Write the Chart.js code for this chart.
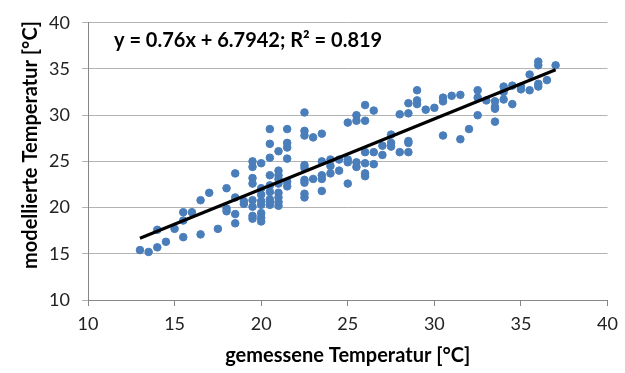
<!DOCTYPE html>
<html>
<head>
<meta charset="utf-8">
<script src="https://cdn.jsdelivr.net/npm/chart.js@4"></script>
<style>
  html, body { margin: 0; padding: 0; background: #fff; }
  #wrap { width: 625px; height: 373px; }
</style>
</head>
<body>
<div id="wrap"><canvas id="myChart" width="625" height="373"></canvas></div>
<script>
// gemessene (x) und modellierte (y) Temperaturen, paarweise
const measured = [
  13, 13.5, 14, 14, 14.5, 15, 15.5, 15.5, 15.5, 16, 16.5, 16.5, 17, 17.5,
  18, 18, 18, 18.5, 18.5, 18.5, 18.5, 19, 19,
  19.5, 19.5, 19.5, 19.5, 19.5, 19.5, 19.5, 19.5,
  20, 20, 20, 20, 20, 20, 20, 20,
  20.5, 20.5, 20.5, 20.5, 20.5, 20.5, 20.5, 20.5, 20.5,
  21, 21, 21, 21, 21, 21, 21, 21, 21,
  21.5, 21.5, 21.5, 21.5, 21.5, 21.5,
  22.5, 22.5, 22.5, 22.5, 22.5, 22.5, 22.5, 22.5, 22.5,
  23, 23, 23.5, 23.5, 23.5, 23.5, 23.5, 24, 24, 24, 24.5, 24.5,
  25, 25, 25, 25, 25.5, 25.5, 25.5, 25.5,
  26, 26, 26, 26, 26, 26, 26.5, 26.5, 26.5, 27, 27, 27.5, 27.5, 27.5,
  28, 28, 28.5, 28.5, 28.5, 28.5, 28.5, 29, 29, 29, 29.5, 30,
  30.5, 30.5, 30.5, 31, 31.5, 31.5, 32, 32.5, 32.5, 32.5, 33,
  33.5, 33.5, 33.5, 33.5, 34, 34, 34, 34.5, 34.5, 35, 35, 35.5, 35.5,
  36, 36, 36, 36, 36.5, 37
];
const modelled = [
  15.4, 15.2, 15.7, 17.6, 16.3, 17.7, 19.5, 18.6, 16.8, 19.5, 20.8, 17.1, 21.6, 17.7,
  22.1, 19.9, 19.6, 23.7, 21.1, 19.3, 18.3, 20.7, 20.4,
  25.0, 24.4, 23.2, 22.6, 20.8, 20.1, 19.1, 18.8,
  24.8, 22.1, 21.4, 20.7, 20.3, 19.4, 18.9, 18.5,
  28.5, 26.9, 25.4, 23.5, 22.4, 21.7, 20.9, 20.6, 20.3,
  26.1, 24.0, 23.5, 23.1, 22.6, 21.6, 21.1, 20.6, 20.2,
  28.5, 27.0, 26.5, 25.3, 22.8, 22.3,
  30.3, 28.3, 27.8, 24.6, 24.3, 23.0, 22.7, 21.5, 21.1,
  27.6, 23.1, 28.0, 25.0, 23.5, 23.1, 21.8, 25.2, 24.5, 23.7, 25.2, 24.0,
  29.2, 25.2, 24.9, 22.6, 30.0, 29.4, 24.9, 24.4,
  31.1, 29.4, 26.0, 24.8, 23.7, 23.4, 30.5, 26.0, 24.7, 26.7, 25.7, 27.9, 27.0, 26.6,
  30.1, 26.0, 31.3, 30.2, 27.2, 27.0, 26.0, 32.7, 31.6, 31.2, 30.6, 30.8,
  31.9, 31.5, 27.8, 32.1, 32.2, 27.4, 28.5, 32.7, 31.9, 30.0, 31.6,
  31.5, 30.9, 30.7, 29.3, 33.1, 32.5, 31.7, 33.2, 31.2, 33.1, 32.8, 34.4, 32.7,
  35.8, 35.4, 33.4, 33.1, 33.8, 35.4
];

// lineare Trendlinie (Excel)
const slope = 0.76;
const intercept = 6.7942;
const rSquared = 0.819;
const trendX = [13, 37];

const xTicks = [10, 15, 20, 25, 30, 35, 40];
const yTicks = [10, 15, 20, 25, 30, 35, 40];

const points = measured.map((x, i) => ({ x: x, y: modelled[i] }));
const trend = trendX.map(x => ({ x: x, y: slope * x + intercept }));

const FONT = "Lato, 'Open Sans', sans-serif";

// Gleichung im Diagramm + y-Achsentitel (leicht nach oben versetzt wie im Original)
const labels = {
  id: "labels",
  afterDraw(chart) {
    const ctx = chart.ctx;
    ctx.save();
    ctx.font = "bold 20px " + FONT;
    ctx.fillStyle = "#000";
    ctx.textBaseline = "middle";
    ctx.textAlign = "left";
    ctx.fillText("y = " + slope + "x + " + intercept + "; R² = " + rSquared, 114, 41);

    ctx.translate(31, 145);
    ctx.rotate(-Math.PI / 2);
    ctx.textAlign = "center";
    ctx.fillText("modellierte Temperatur [°C]", 0, 0);
    ctx.restore();
  }
};

new Chart(document.querySelector("#myChart"), {
  type: "scatter",
  data: {
    datasets: [
      {
        label: "Temperatur",
        data: points,
        backgroundColor: "#4a7ebb",
        borderColor: "#4a7ebb",
        pointRadius: 3.8,
        pointHoverRadius: 3.8,
        order: 2
      },
      {
        type: "line",
        label: "Trend",
        data: trend,
        borderColor: "#000",
        borderWidth: 3.2,
        pointRadius: 0,
        fill: false,
        order: 1
      }
    ]
  },
  options: {
    responsive: false,
    animation: false,
    layout: { padding: { top: 18, right: 10, left: 0, bottom: 0 } },
    plugins: {
      legend: { display: false },
      tooltip: { enabled: false }
    },
    scales: {
      x: {
        type: "linear",
        min: 10,
        max: 40,
        afterBuildTicks: axis => { axis.ticks = xTicks.map(v => ({ value: v })); },
        afterFit: axis => { axis.height = 73; },
        ticks: { color: "#222", font: { size: 18, family: FONT }, padding: 7 },
        grid: { drawOnChartArea: false, drawTicks: true, tickLength: 6, color: "#868686" },
        border: { display: true, color: "#868686", width: 1 },
        title: {
          display: true,
          text: "gemessene Temperatur [°C]",
          color: "#000",
          font: { size: 20, weight: "bold", family: FONT },
          padding: { top: 0, bottom: 5 }
        }
      },
      y: {
        type: "linear",
        min: 10,
        max: 40,
        afterBuildTicks: axis => { axis.ticks = yTicks.map(v => ({ value: v })); },
        afterFit: axis => { axis.width = 88; },
        ticks: { color: "#222", font: { size: 18, family: FONT }, padding: 12 },
        grid: { color: "#b3b3b3", drawTicks: true, tickLength: 6 },
        border: { display: true, color: "#868686", width: 1 }
      }
    }
  },
  plugins: [labels]
});
</script>
</body>
</html>
